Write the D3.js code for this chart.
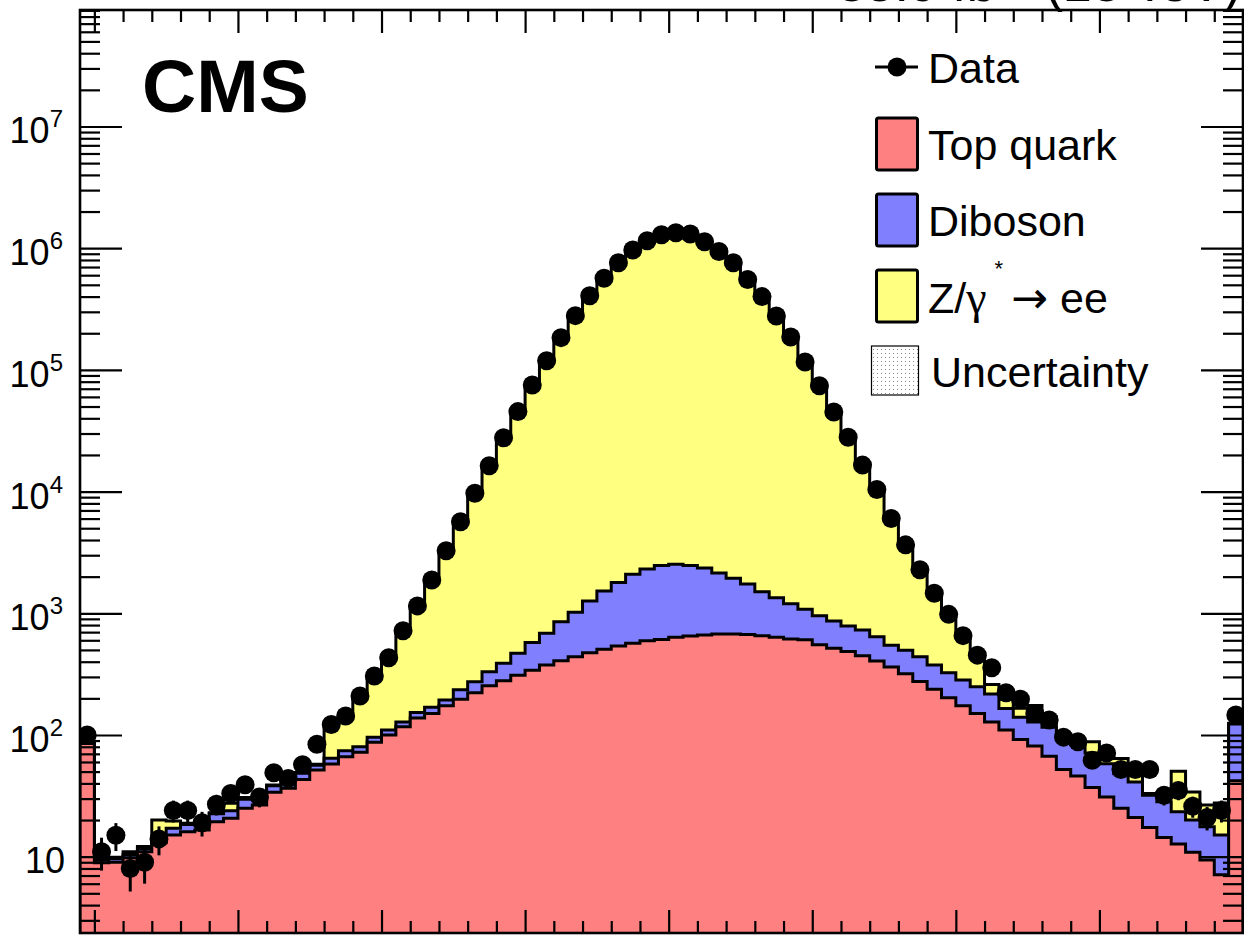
<!DOCTYPE html>
<html><head><meta charset="utf-8">
<script src="https://cdn.jsdelivr.net/npm/d3@7/dist/d3.min.js"></script>
<style>
body{margin:0;background:#fff;}
svg{display:block;}
text{font-family:"Liberation Sans",Arial,Helvetica,sans-serif;fill:#000;}
</style>
</head><body>
<svg id="c" width="1244" height="935"></svg>
<script>
// ---- data: dielectron mass, 1 GeV bins from 49 to 130 GeV ----
const binLowEdges = d3.range(49, 130);
const topQuark = [85, 8.9, 9.0, 9.8, 11, 13, 15.1, 16, 16.6, 19.4,
 20.7, 25, 26.6, 33.8, 36.5, 43, 51.6, 57.8, 66.2, 72,
 87, 100, 117, 138, 150, 174, 197, 222, 254, 279,
 310, 341, 375, 408, 440, 475, 507, 538, 566, 594,
 610, 634, 650, 662, 675, 675, 670, 655, 634, 616,
 605, 552, 517, 485, 448, 405, 362, 318, 275, 238,
 202, 174, 150, 128, 110, 92, 81, 67, 52, 46,
 37, 31, 25, 21, 17.4, 14.4, 12.7, 10.9, 9.4, 7.1,
 42];
const diboson = [2, 0.5, 0.6, 0.6, 0.7, 1.0, 2.0, 2.4, 1.8, 3.1,
 3.2, 4.6, 4.5, 4.5, 4.9, 5.4, 4.9, 6.5, 8.1, 8.2,
 8.7, 10, 11, 15, 19, 20, 38, 52, 77, 110,
 159, 235, 309, 444, 580, 785, 1020, 1250, 1530, 1720,
 1860, 1890, 1820, 1690, 1465, 1265, 1070, 845, 706, 584,
 475, 401, 349, 302, 282, 235, 185, 179, 165, 137,
 123, 109, 99, 89, 55, 48, 47, 49, 45, 37,
 34, 27, 23, 20, 14.6, 13.9, 10.7, 9.1, 8.2, 8,
 81];
const drellYan = [1, 0.3, 0.3, 0.6, 0.4, 6, 2.5, 0.4, 0.3, 0.5,
 3.6, 1, 0.5, 0.5, 0.6, 0.8, 1, 55, 67, 126,
 207, 318, 591, 997, 1700, 3050, 5400, 9400, 16000, 27300,
 44900, 74400, 118000, 183000, 277000, 405000, 564000, 757000, 963000, 1140000,
 1290000, 1330000, 1300000, 1120000, 935000, 755000, 550000, 397000, 274000, 185000,
 114000, 73000, 44000, 27000, 15800, 9700, 5400, 3150, 1850, 1080,
 650, 357, 200, 43, 31, 26, 47, 25, 5, 4,
 17, 12, 16, 11, 1, 2.7, 27, 14, 9, 12.5,
 2];
const dataCounts = [100, 11, 15, 8, 9, 14, 24, 24, 19, 27,
 33, 39, 31, 49, 44, 57, 84, 122, 143, 209,
 305, 431, 719, 1150, 1880, 3260, 5660, 9680, 16300, 27700,
 45400, 75200, 119000, 184000, 279000, 407000, 566000, 760000, 966000, 1150000,
 1290000, 1340000, 1310000, 1130000, 940000, 760000, 553000, 400000, 277000, 186000,
 116000, 74000, 45000, 28000, 16500, 10400, 6000, 3650, 2280, 1460,
 980, 655, 453, 357, 222, 197, 150, 133, 96, 88,
 62, 71, 52, 52, 52, 32, 35, 26, 21, 24,
 146];
const xMajorTicks = [50, 60, 70, 80, 90, 100, 110, 120, 130];
const yDecades = [10, 1e2, 1e3, 1e4, 1e5, 1e6, 1e7];
const yDecadeExp = ["", "2", "3", "4", "5", "6", "7"];
const legendLabels = ["Data", "Top quark", "Diboson", "Z/γ* → ee", "Uncertainty"];
const headerText = "35.9 fb⁻¹ (13 TeV)";
const experimentLabel = "CMS";

// ---- layout ----
const X0 = 80, X1 = 1243, Y0 = 10, Y1 = 933;
const colors = {top: "#ff8080", dib: "#8080ff", dy: "#ffff80"};

const svg = d3.select("#c");
const x = d3.scaleLinear().domain([49, 130]).range([X0, X1]);
const y = d3.scaleLog().domain([2.36, 9.06e7]).range([Y1, Y0]);

const defs = svg.append("defs");
defs.append("clipPath").attr("id", "plotclip").append("rect")
  .attr("x", X0).attr("y", Y0).attr("width", X1 - X0).attr("height", Y1 - Y0);
const pat = defs.append("pattern").attr("id", "dots").attr("patternUnits", "userSpaceOnUse")
  .attr("width", 4).attr("height", 4);
pat.append("rect").attr("width", 4).attr("height", 4).attr("fill", "#fff");
pat.append("rect").attr("x", 1).attr("y", 1).attr("width", 1).attr("height", 1).attr("fill", "#888");

// cumulative stack
const cumTop = topQuark.slice();
const cumDib = topQuark.map((v, i) => v + diboson[i]);
const cumAll = cumDib.map((v, i) => v + drellYan[i]);

const plot = svg.append("g").attr("clip-path", "url(#plotclip)");

function pts(vals) {
  const p = binLowEdges.map((e, i) => [x(e), y(vals[i])]);
  p.push([x(130), y(vals[vals.length - 1])]);
  return p;
}
const area = d3.area().x(d => d[0]).y1(d => d[1]).y0(Y1 + 5).curve(d3.curveStepAfter);
const line = d3.line().x(d => d[0]).y(d => d[1]).curve(d3.curveStepAfter);

[[cumAll, colors.dy], [cumDib, colors.dib], [cumTop, colors.top]].forEach(([vals, col]) => {
  plot.append("path").attr("d", area(pts(vals))).attr("fill", col).attr("stroke", "none");
  const p = pts(vals);
  plot.append("path").attr("d", `M${x(49)},${Y1 + 5}L` + line(p).slice(1) + `L${x(130)},${Y1 + 5}`)
    .attr("fill", "none").attr("stroke", "#000").attr("stroke-width", 3).attr("stroke-linejoin", "miter");
});

// data points
const dg = plot.append("g");
dataCounts.forEach((d, i) => {
  const cx = x(binLowEdges[i] + 0.5);
  const err = Math.sqrt(d);
  dg.append("line").attr("x1", cx).attr("x2", cx)
    .attr("y1", y(Math.max(d - err, 1))).attr("y2", y(d + err))
    .attr("stroke", "#000").attr("stroke-width", 3);
  dg.append("circle").attr("cx", cx).attr("cy", y(d)).attr("r", 9.5).attr("fill", "#000");
});

// ---- axes (ticks inward on all sides) ----
const minorX = d3.range(50, 131, 2).filter(v => v % 10 !== 0);
function styleAxis(g) { g.select(".domain").remove(); g.selectAll("line").attr("stroke", "#000").attr("stroke-width", 2.2); g.selectAll("text").remove(); }
svg.append("g").attr("transform", `translate(0,${Y1})`).call(d3.axisBottom(x).tickValues(xMajorTicks).tickSize(-23).tickFormat("")).call(styleAxis);
svg.append("g").attr("transform", `translate(0,${Y1})`).call(d3.axisBottom(x).tickValues(minorX).tickSize(-12).tickFormat("")).call(styleAxis);
svg.append("g").attr("transform", `translate(0,${Y0})`).call(d3.axisTop(x).tickValues(xMajorTicks).tickSize(-23).tickFormat("")).call(styleAxis);
svg.append("g").attr("transform", `translate(0,${Y0})`).call(d3.axisTop(x).tickValues(minorX).tickSize(-12).tickFormat("")).call(styleAxis);

const minorY = [];
[1, 10, 100, 1e3, 1e4, 1e5, 1e6, 1e7].forEach(dec => { for (let k = 2; k <= 9; k++) { const v = k * dec; if (v > 2.36 && v < 9.06e7) minorY.push(v); } });
svg.append("g").attr("transform", `translate(${X0},0)`).call(d3.axisLeft(y).tickValues(yDecades).tickSize(-42).tickFormat("")).call(styleAxis);
svg.append("g").attr("transform", `translate(${X0},0)`).call(d3.axisLeft(y).tickValues(minorY).tickSize(-20).tickFormat("")).call(styleAxis);
svg.append("g").attr("transform", `translate(${X1},0)`).call(d3.axisRight(y).tickValues(yDecades).tickSize(-42).tickFormat("")).call(styleAxis);
svg.append("g").attr("transform", `translate(${X1},0)`).call(d3.axisRight(y).tickValues(minorY).tickSize(-20).tickFormat("")).call(styleAxis);

// frame
svg.append("rect").attr("x", X0).attr("y", Y0).attr("width", X1 - X0).attr("height", Y1 - Y0)
  .attr("fill", "none").attr("stroke", "#000").attr("stroke-width", 2.6);

// y labels
yDecades.forEach((v, i) => {
  const t = svg.append("text").attr("text-anchor", "end").attr("font-size", 36);
  if (yDecadeExp[i] === "") {
    t.attr("x", 65).attr("y", y(v) + 16).text("10");
  } else {
    t.attr("x", 63).attr("y", y(v) + 17);
    t.append("tspan").text("10");
    t.append("tspan").attr("font-size", 24).attr("dy", -16).text(yDecadeExp[i]);
  }
});

// CMS label
svg.append("text").attr("x", 142).attr("y", 112).attr("font-size", 75).attr("font-weight", "bold").text(experimentLabel);
// header (partly above the picture, as in the reference)
svg.append("text").attr("x", 1241).attr("y", 1).attr("text-anchor", "end").attr("font-size", 52).text(headerText);

// ---- legend ----
const lg = svg.append("g");
const rowsY = [67, 144, 220, 296, 370];
const LFS = 43;
lg.append("line").attr("x1", 875).attr("x2", 918).attr("y1", rowsY[0]).attr("y2", rowsY[0]).attr("stroke", "#000").attr("stroke-width", 3);
lg.append("circle").attr("cx", 897).attr("cy", rowsY[0]).attr("r", 9.5).attr("fill", "#000");
lg.append("text").attr("x", 928).attr("y", rowsY[0] + 16).attr("font-size", LFS).text(legendLabels[0]);
[colors.top, colors.dib, colors.dy].forEach((c, k) => {
  const cy = rowsY[k + 1];
  lg.append("rect").attr("x", 876.5).attr("y", cy - 26).attr("width", 41).attr("height", 52)
    .attr("rx", 2).attr("fill", c).attr("stroke", "#000").attr("stroke-width", 3);
});
lg.append("text").attr("x", 928).attr("y", rowsY[1] + 16).attr("font-size", LFS).text(legendLabels[1]);
lg.append("text").attr("x", 928).attr("y", rowsY[2] + 16).attr("font-size", LFS).text(legendLabels[2]);
const zt = lg.append("text").attr("x", 928).attr("y", rowsY[3] + 17).attr("font-size", LFS);
zt.append("tspan").text("Z/");
zt.append("tspan").attr("font-family", "'Liberation Serif','DejaVu Serif',serif").attr("font-size", 46).text("γ");
zt.append("tspan").attr("font-size", 22).attr("dy", -37).attr("dx", 8).text("*");
zt.append("tspan").attr("dy", 37).attr("dx", 8).attr("font-family", "'DejaVu Sans','Liberation Sans',sans-serif").attr("font-size", 44).text("→");
zt.append("tspan").attr("dx", 12).text("ee");
lg.append("rect").attr("x", 871.5).attr("y", rowsY[4] - 24).attr("width", 47).attr("height", 49)
  .attr("fill", "url(#dots)").attr("stroke", "#000").attr("stroke-width", 1.2);
lg.append("text").attr("x", 931).attr("y", rowsY[4] + 17).attr("font-size", LFS).text(legendLabels[4]);
</script>
</body></html>
